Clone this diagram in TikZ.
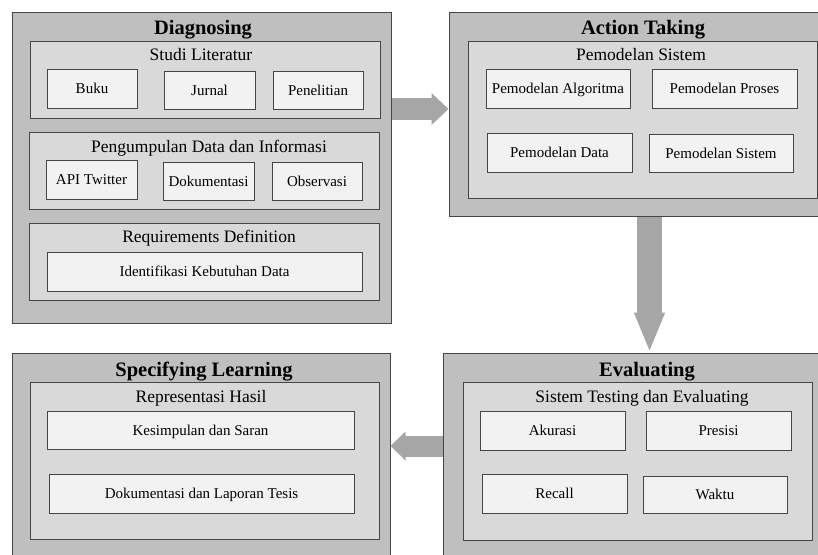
\documentclass[tikz,border=0pt]{standalone}
\usepackage{fontspec}
\setmainfont{Liberation Serif}
\usetikzlibrary{fit,arrows.meta}
\definecolor{outerfill}{HTML}{BFBFBF}
\definecolor{innerfill}{HTML}{D9D9D9}
\definecolor{smallfill}{HTML}{F2F2F2}
\definecolor{bordercol}{HTML}{454545}
\definecolor{arrowcol}{HTML}{A6A6A6}
\tikzset{
  outerbox/.style={draw=bordercol, line width=1pt, fill=outerfill, inner sep=0pt},
  innerbox/.style={draw=bordercol, line width=1pt, fill=innerfill, inner sep=0pt},
  smallbox/.style={draw=bordercol, line width=1pt, fill=smallfill, inner sep=0pt},
  lbl/.style={inner sep=0pt, font=\fontsize{15}{18}\selectfont, text height=10pt, text depth=0pt},
  titletext/.style={inner sep=0pt, font=\fontsize{20.5}{24}\selectfont\bfseries, text height=14pt, text depth=0pt},
  subtext/.style={inner sep=0pt, font=\fontsize{17.5}{21}\selectfont, text height=12pt, text depth=0pt},
  bigarrow/.style={draw=arrowcol, line cap=butt}
}
\begin{document}
\begin{tikzpicture}[x=1pt,y=-1pt]
\useasboundingbox (0,0) rectangle (818,554);
\clip (0,0) rectangle (818,554);
\fill[white] (0,0) rectangle (818,554);

% ---------- Diagnosing ----------
\node[outerbox, fit={(12,12) (391,323)}] (diag) {};
\node[titletext] (diagT) at (203,27) {Diagnosing};
\node[innerbox, fit={(30,41) (380,118)}] (studi) {};
\node[subtext] (studiT) at (201,54) {Studi Literatur};
\node[smallbox, fit={(47,69) (137,108)}] (buku) {};
\node[lbl] at (buku.center) (bukuT) {Buku};
\node[smallbox, fit={(164,71) (255,109)}] (jurnal) {};
\node[lbl] at (jurnal.center) (jurnalT) {Jurnal};
\node[smallbox, fit={(273,71) (363,109)}] (penel) {};
\node[lbl] at (penel.center) (penelT) {Penelitian};

\node[innerbox, fit={(29,132) (379,209)}] (pengum) {};
\node[subtext] (pengumT) at (209,146) {Pengumpulan Data dan Informasi};
\node[smallbox, fit={(46,160) (137,199)}] (api) {};
\node[lbl] at (api.center) (apiT) {API Twitter};
\node[smallbox, fit={(163,162) (254,200)}] (dok) {};
\node[lbl] at (dok.center) (dokT) {Dokumentasi};
\node[smallbox, fit={(272,162) (362,200)}] (obs) {};
\node[lbl] at (obs.center) (obsT) {Observasi};

\node[innerbox, fit={(29,223) (379,300)}] (req) {};
\node[subtext] (reqT) at (209,236) {Requirements Definition};
\node[smallbox, fit={(47,252) (362,291)}] (ident) {};
\node[lbl] at (ident.center) (identT) {Identifikasi Kebutuhan Data};

% ---------- Action Taking ----------
\node[outerbox, fit={(449,12) (840,216)}] (act) {};
\node[titletext] (actT) at (643,27) {Action Taking};
\node[innerbox, fit={(468,41) (817,198)}] (pemsis) {};
\node[subtext] (pemsisT) at (641,54) {Pemodelan Sistem};
\node[smallbox, fit={(486,69) (630,108)}] (palg) {};
\node[lbl] at (palg.center) (palgT) {Pemodelan Algoritma};
\node[smallbox, fit={(652,69) (797,108)}] (ppro) {};
\node[lbl] at (ppro.center) (pproT) {Pemodelan Proses};
\node[smallbox, fit={(487,133) (632,172)}] (pdat) {};
\node[lbl] at (pdat.center) (pdatT) {Pemodelan Data};
\node[smallbox, fit={(649,134) (793,172)}] (psis) {};
\node[lbl] at (psis.center) (psisT) {Pemodelan Sistem};

% ---------- Evaluating ----------
\node[outerbox, fit={(443,353) (840,580)}] (eval) {};
\node[titletext] (evalT) at (647,369) {Evaluating};
\node[innerbox, fit={(463,382) (812,540)}] (stest) {};
\node[subtext] (stestT) at (642,396) {Sistem Testing dan Evaluating};
\node[smallbox, fit={(480,411) (625,450)}] (aku) {};
\node[lbl] at (aku.center) (akuT) {Akurasi};
\node[smallbox, fit={(646,411) (791,450)}] (pre) {};
\node[lbl] at (pre.center) (preT) {Presisi};
\node[smallbox, fit={(482,474) (627,513)}] (rec) {};
\node[lbl] at (rec.center) (recT) {Recall};
\node[smallbox, fit={(643,476) (787,513)}] (wak) {};
\node[lbl] at (wak.center) (wakT) {Waktu};

% ---------- Specifying Learning ----------
\node[outerbox, fit={(12,353) (390,580)}] (spec) {};
\node[titletext] (specT) at (204,369) {Specifying Learning};
\node[innerbox, fit={(30,382) (379,539)}] (repr) {};
\node[subtext] (reprT) at (201,396) {Representasi Hasil};
\node[smallbox, fit={(47,411) (354,449)}] (kes) {};
\node[lbl] at (kes.center) (kesT) {Kesimpulan dan Saran};
\node[smallbox, fit={(49,474) (354,513)}] (lap) {};
\node[lbl] at (lap.center) (lapT) {Dokumentasi dan Laporan Tesis};

% ---------- Arrows ----------
\draw[bigarrow, line width=22pt, -{Triangle[width=31pt,length=17pt]}]
  (diag.east |- 0,109) -- (act.west |- 0,109);
\draw[bigarrow, line width=25pt, -{Triangle[width=28pt,length=40pt]}]
  (act.south -| 649.5,0) -- (eval.north -| 649.5,0);
\draw[bigarrow, line width=21pt, -{Triangle[width=28pt,length=15pt]}]
  (eval.west |- 0,446) -- (spec.east |- 0,446);
\end{tikzpicture}
\end{document}
